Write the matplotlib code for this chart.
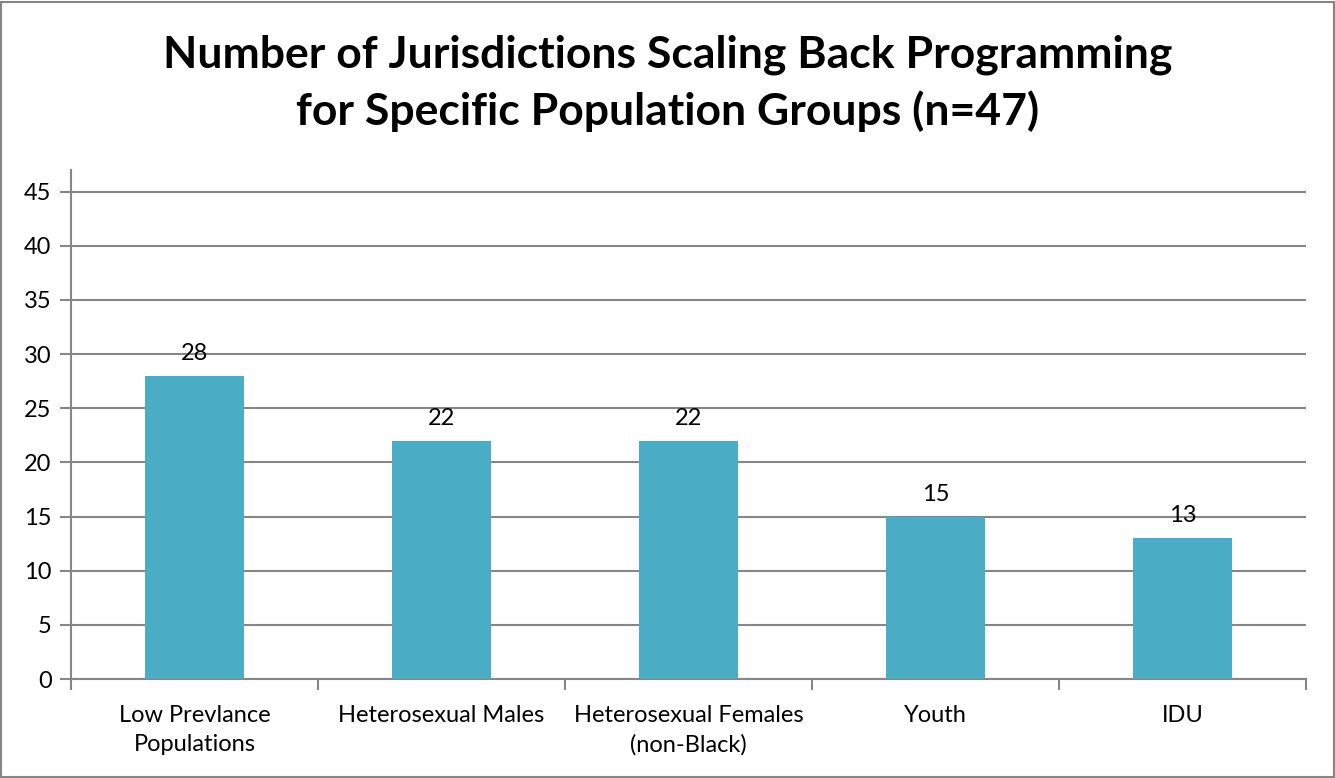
import matplotlib.pyplot as plt
import numpy as np

groups = ["Low Prevlance\nPopulations", "Heterosexual Males",
          "Heterosexual Females\n(non-Black)", "Youth", "IDU"]
counts = [28, 22, 22, 15, 13]
yticks = [0, 5, 10, 15, 20, 25, 30, 35, 40, 45]

plt.rcParams['font.family'] = ['Lato', 'DejaVu Sans']

fig = plt.figure(figsize=(13.35, 7.78), dpi=100)
fig.patch.set_facecolor('white')
ax = fig.add_axes([71 / 1335, 1 - 679 / 778, 1235 / 1335, 509 / 778])

x = np.arange(len(groups))
ax.bar(x, counts, width=0.4, color='#4BACC6', zorder=3)
for xi, v in zip(x, counts):
    ax.text(xi, v + 1.1, str(v), ha='center', va='bottom', fontsize=17, zorder=4)

ax.set_xlim(-0.5, len(groups) - 0.5)
ax.set_ylim(0, 47)
ax.set_yticks(yticks)
ax.set_yticklabels([str(t) for t in yticks], fontsize=17)
ax.yaxis.grid(True, color='#868686', linewidth=1.5, zorder=0)

ax.set_xticks(x)
ax.set_xticklabels(groups, fontsize=17, linespacing=1.45)
ax.tick_params(axis='x', length=0, pad=19)
ax.set_xticks(np.arange(-0.5, len(groups)), minor=True)
ax.tick_params(axis='x', which='minor', length=8, width=1.5, color='#868686')
ax.tick_params(axis='y', length=8, width=1.5, color='#868686', pad=6)

for side in ['top', 'right']:
    ax.spines[side].set_visible(False)
for side in ['left', 'bottom']:
    ax.spines[side].set_color('#868686')
    ax.spines[side].set_linewidth(1.5)

fig.text(0.5, 1 - 83 / 778, "Number of Jurisdictions Scaling Back Programming\nfor Specific Population Groups (n=47)",
         ha='center', va='center', fontsize=32, fontweight='bold', linespacing=1.45)

border = plt.Rectangle((0.001, 0.001), 0.998, 0.997, transform=fig.transFigure,
                       fill=False, edgecolor='#868686', linewidth=1.5)
fig.patches.append(border)

fig.savefig('out.png', dpi=100)
